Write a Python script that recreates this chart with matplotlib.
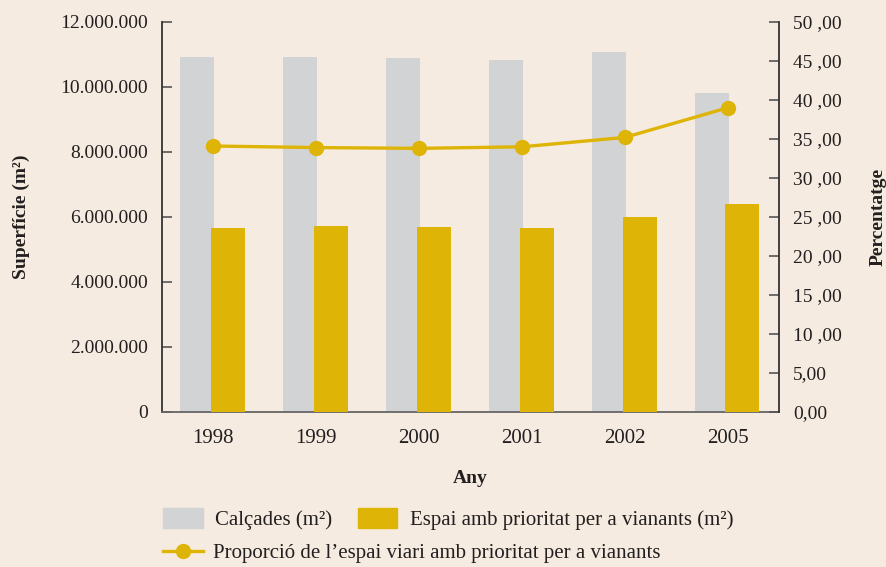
import numpy as np
import matplotlib.pyplot as plt
from matplotlib.patches import Patch
from matplotlib.lines import Line2D

# Dades
anys = ['1998', '1999', '2000', '2001', '2002', '2005']
calcades = [10910000, 10920000, 10900000, 10830000, 11070000, 9810000]
espai_vianants = [5660000, 5720000, 5690000, 5660000, 6000000, 6400000]
proporcio = [34.1, 33.9, 33.8, 34.0, 35.2, 39.0]

esq_ticks = [0, 2000000, 4000000, 6000000, 8000000, 10000000, 12000000]
esq_labels = ['0', '2.000.000', '4.000.000', '6.000.000', '8.000.000',
              '10.000.000', '12.000.000']
dre_ticks = [0, 5, 10, 15, 20, 25, 30, 35, 40, 45, 50]
dre_labels = ['0,00', '5,00', '10 ,00', '15 ,00', '20 ,00', '25 ,00',
              '30 ,00', '35 ,00', '40 ,00', '45 ,00', '50 ,00']

fons = '#f5ebe0'
gris = '#d1d3d4'
or_ = '#deb406'
text_color = '#231f20'

plt.rcParams['font.family'] = ['Liberation Serif', 'DejaVu Serif']

fig = plt.figure(figsize=(8.87, 5.67), dpi=100, facecolor=fons)
ax = fig.add_axes([0.1826, 0.2734, 0.6956, 0.6878])
ax.set_facecolor(fons)

x = np.arange(len(anys))
amplada = 0.33
ax.bar(x - 0.155, calcades, amplada, color=gris, zorder=2)
ax.bar(x + 0.145, espai_vianants, amplada, color=or_, zorder=3)

ax.set_xlim(-0.5, len(anys) - 0.5)
ax.set_ylim(0, 12000000)
ax.set_yticks(esq_ticks)
ax.set_yticklabels(esq_labels)
ax.set_xticks(x)
ax.set_xticklabels(anys)
ax.tick_params(axis='y', direction='in', length=7, width=1.2,
               colors='#555555', labelcolor=text_color, labelsize=14, pad=10)
ax.tick_params(axis='x', length=0, labelsize=15, labelcolor=text_color, pad=12)

for s in ['top', 'right']:
    ax.spines[s].set_visible(False)
ax.spines['left'].set_color('#333333')
ax.spines['left'].set_linewidth(1.3)
ax.spines['bottom'].set_color('#666666')
ax.spines['bottom'].set_linewidth(1.3)

ax.set_ylabel('Superfície (m²)', fontsize=14, fontweight='bold',
              color=text_color, labelpad=22)
ax.set_xlabel('Any', fontsize=14, fontweight='bold', color=text_color,
              labelpad=16)

ax2 = ax.twinx()
ax2.plot(x, proporcio, color=or_, linewidth=2.4, marker='o',
         markersize=10, zorder=5)
ax2.set_ylim(0, 50)
ax2.set_yticks(dre_ticks)
ax2.set_yticklabels(dre_labels)
ax2.tick_params(axis='y', direction='in', length=7, width=1.2,
                colors='#555555', labelcolor=text_color, labelsize=14, pad=10)
for s in ['top', 'left', 'bottom']:
    ax2.spines[s].set_visible(False)
ax2.spines['right'].set_color('#333333')
ax2.spines['right'].set_linewidth(1.3)
ax2.set_ylabel('Percentatge', fontsize=14, fontweight='bold',
               color=text_color, labelpad=20)

# Llegenda
h1 = [Patch(color=gris, label='Calçades (m²)'),
      Patch(color=or_, label='Espai amb prioritat per a vianants (m²)')]
fig.legend(handles=h1, loc='upper left', bbox_to_anchor=(0.163, 0.138),
           ncol=2, frameon=False, fontsize=15, handlelength=1.9,
           handleheight=1.1, handletextpad=0.6, columnspacing=1.2,
           labelcolor=text_color)
h2 = [Line2D([0], [0], color=or_, linewidth=2.4, marker='o', markersize=10,
             label="Proporció de l’espai viari amb prioritat per a vianants")]
fig.legend(handles=h2, loc='upper left', bbox_to_anchor=(0.163, 0.074),
           frameon=False, fontsize=15, handlelength=1.9, handletextpad=0.5,
           labelcolor=text_color)

fig.savefig('out.png', dpi=100, facecolor=fons)
